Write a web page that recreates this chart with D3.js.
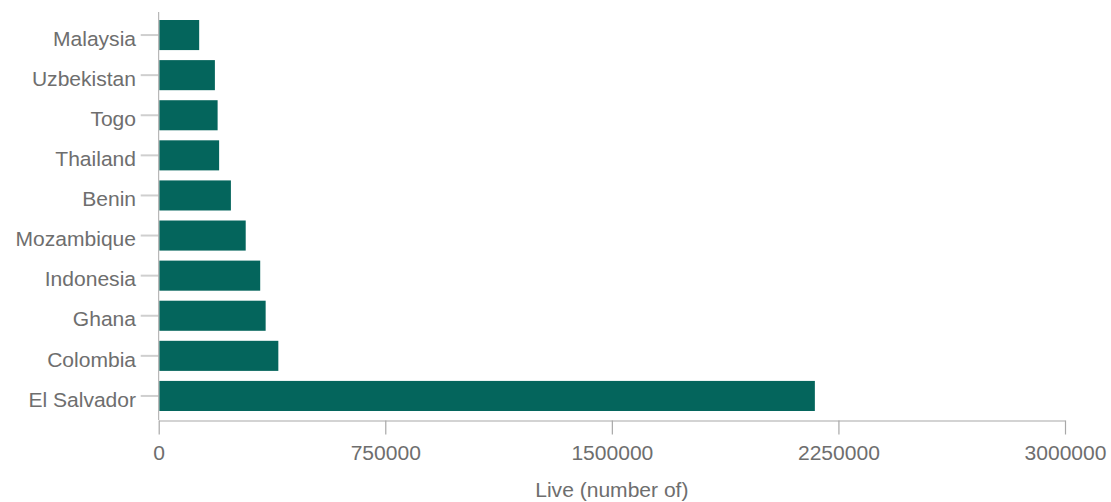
<!DOCTYPE html>
<html>
<head>
<meta charset="utf-8">
<script src="https://cdn.jsdelivr.net/npm/d3@7"></script>
<style>
  html, body { margin: 0; padding: 0; background: #fff; }
  svg { display: block; }
  text { font-family: "Liberation Sans", Arial, Helvetica, sans-serif; }
</style>
</head>
<body>
<svg id="chart" width="1111" height="502"></svg>
<script>
const categories = ["Malaysia", "Uzbekistan", "Togo", "Thailand", "Benin", "Mozambique", "Indonesia", "Ghana", "Colombia", "El Salvador"];
const values = [134000, 186000, 195000, 200000, 239000, 288000, 336000, 354000, 396000, 2172000];
const xTicks = [0, 750000, 1500000, 2250000, 3000000];
const xTitle = "Live (number of)";

const svg = d3.select("#chart");
const x = d3.scaleLinear().domain([0, 3000000]).range([158.7, 1065]);
const y = d3.scaleBand().domain(categories).range([15, 416]).paddingInner(0.25).paddingOuter(0.125);

const barColor = "#04655c";
const textColor = "#6e6e6e";

// bars
svg.append("g").selectAll("rect").data(categories).join("rect")
  .attr("x", x(0) + 0.6)
  .attr("y", d => y(d))
  .attr("width", (d, i) => x(values[i]) - x(0) - 0.6)
  .attr("height", y.bandwidth())
  .attr("fill", barColor);

// y axis
const yAxis = svg.append("g").attr("transform", `translate(${x(0)},0)`)
  .call(d3.axisLeft(y).tickSize(18).tickPadding(3).tickSizeOuter(0));
yAxis.select(".domain").remove();
yAxis.selectAll(".tick line").attr("stroke", "#cfcfcf").attr("stroke-width", 2);
yAxis.selectAll(".tick text")
  .attr("fill", textColor)
  .attr("font-size", 19.5)
  .attr("dy", null)
  .attr("y", 10.7)
  .attr("transform", "scale(1.08,1)");
svg.append("line")
  .attr("x1", x(0)).attr("x2", x(0))
  .attr("y1", 12).attr("y2", 420)
  .attr("stroke", "#a8a8a8").attr("stroke-width", 1);

// x axis
const xAxis = svg.append("g").attr("transform", "translate(0,420.5)")
  .call(d3.axisBottom(x).tickValues(xTicks).tickFormat(d3.format("d")).tickSize(14).tickSizeOuter(0).tickPadding(10));
xAxis.select(".domain").attr("stroke", "#c4c4c4").attr("stroke-width", 1.5);
xAxis.selectAll(".tick line").attr("stroke", "#a8a8a8").attr("stroke-width", 1.2);
xAxis.selectAll(".tick text")
  .attr("fill", textColor)
  .attr("font-size", 19.5)
  .attr("dy", null)
  .attr("y", 39.5)
  .attr("transform", "scale(1.08,1)");
xAxis.selectAll(".tick").each(function(d) {
  d3.select(this).select("text").attr("transform", null)
    .attr("textLength", null);
});
xAxis.selectAll(".tick text").attr("transform", "scale(1.08,1)");

// x title
svg.append("text")
  .attr("x", 0).attr("y", 0)
  .attr("transform", `translate(${(x(0) + x(3000000)) / 2},497) scale(1.08,1)`)
  .attr("text-anchor", "middle")
  .attr("font-size", 19.5)
  .attr("fill", textColor)
  .text(xTitle);
</script>
</body>
</html>
